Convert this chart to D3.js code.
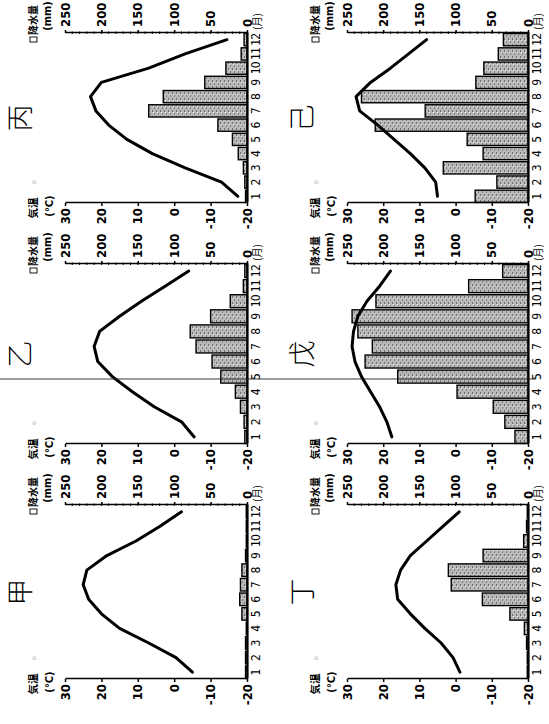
<!DOCTYPE html>
<html>
<head>
<meta charset="utf-8">
<script src="https://cdn.jsdelivr.net/npm/d3@7/dist/d3.min.js"></script>
<style>
  body { margin: 0; background: #fff; }
  svg { display: block; }
  .num { font-family: "DejaVu Sans Condensed", "Liberation Sans Narrow", "DejaVu Sans", sans-serif; font-stretch: condensed; }
  .cjk { font-family: "Noto Sans CJK JP", sans-serif; }
</style>
</head>
<body>
<svg id="chart" width="549" height="724"></svg>
<script>
// month categories
const months = [1, 2, 3, 4, 5, 6, 7, 8, 9, 10, 11, 12];
const panelNames = ["甲", "乙", "丙", "丁", "戊", "己"];

// monthly mean temperature (°C)
const tempKo   = [-5, -0.5, 7, 15, 20, 23.5, 25, 24, 18.5, 10.5, 4, -2];
const tempOtsu = [-5.5, -2, 5.5, 11.5, 17, 21, 22, 20.5, 15, 9, 2.5, -4];
const tempHei  = [-17.5, -13, -3, 6, 13, 18, 21.5, 23, 20, 7, -3, -14.5];
const tempTei  = [-1.2, 0.7, 4, 8.5, 12.5, 16, 16.5, 15.2, 12.5, 8, 3.5, -1];
const tempBo   = [17.6, 19, 21, 23.5, 26, 27.8, 28.6, 28.2, 27, 24.5, 21, 18];
const tempKi   = [5, 5.5, 8.5, 12.5, 17, 21.5, 26.5, 27.5, 23.5, 18, 13, 8];

// monthly precipitation (mm)
const precipKo   = [2, 2, 2, 1, 7, 10, 9, 7, 2, 1, 1, 1];
const precipOtsu = [3, 4, 9, 16, 36, 48, 70, 78, 50, 23, 5, 3];
const precipHei  = [2, 3, 5, 12, 20, 40, 135, 115, 58, 29, 8, 4];
const precipTei  = [1, 1, 2, 5, 25, 63, 106, 110, 62, 6, 2, 1];
const precipBo   = [18, 32, 48, 98, 180, 225, 215, 235, 243, 210, 82, 35];
const precipKi   = [73, 43, 117, 62, 84, 211, 142, 230, 72, 61, 41, 34];

const tempTicks = [30, 20, 10, 0, -10, -20];
const precipTicks = [250, 200, 150, 100, 50, 0];

const temps = [tempKo, tempOtsu, tempHei, tempTei, tempBo, tempKi];
const precips = [precipKo, precipOtsu, precipHei, precipTei, precipBo, precipKi];

// layout (drawn unrotated, 724 x 549, then turned a quarter left like the scan)
const W = 724;
const colSpans = [[45, 219], [280, 460], [521, 691]];
const rowSpans = [[65, 247], [347, 528]];

const svg = d3.select("#chart");
svg.append("rect").attr("width", 549).attr("height", 724).attr("fill", "#fff");

// grey speckled fill for the bars
const defs = svg.append("defs");
const pat = defs.append("pattern").attr("id", "speckle")
    .attr("width", 6).attr("height", 4).attr("patternUnits", "userSpaceOnUse");
pat.append("rect").attr("width", 6).attr("height", 4).attr("fill", "#b9b9b9");
pat.append("rect").attr("x", 0).attr("y", 0).attr("width", 2).attr("height", 1).attr("fill", "#6e6e6e");
pat.append("rect").attr("x", 3).attr("y", 2).attr("width", 2).attr("height", 1).attr("fill", "#848484");
pat.append("rect").attr("x", 5).attr("y", 1).attr("width", 1).attr("height", 1).attr("fill", "#ececec");

const page = svg.append("g").attr("transform", `translate(0,${W}) rotate(-90)`);

panelNames.forEach((name, i) => {
    const [u0, u1] = colSpans[i % 3];
    const [vTop, vBase] = rowSpans[Math.floor(i / 3)];
    const g = page.append("g");

    const x = d3.scaleBand().domain(months).range([u0, u1]).paddingInner(0.14).paddingOuter(0.04);
    const yT = d3.scaleLinear().domain([-20, 30]).range([vBase, vTop]);
    const yP = d3.scaleLinear().domain([0, 250]).range([vBase, vTop]);
    const bw = x.bandwidth();

    // precipitation bars
    g.selectAll(".bar")
        .data(months)
        .enter().append("rect")
        .attr("x", m => x(m))
        .attr("y", m => yP(precips[i][m - 1]))
        .attr("width", bw)
        .attr("height", m => vBase - yP(precips[i][m - 1]))
        .attr("fill", "url(#speckle)")
        .attr("stroke", "#000")
        .attr("stroke-width", 1.4);

    // temperature line
    const line = d3.line()
        .x(m => x(m) + bw / 2)
        .y(m => yT(temps[i][m - 1]));
    g.append("path")
        .datum(months)
        .attr("d", line)
        .attr("fill", "none")
        .attr("stroke", "#000")
        .attr("stroke-width", 3)
        .attr("stroke-linejoin", "round")
        .attr("stroke-linecap", "round");

    // temperature axis
    const axT = g.append("g").attr("transform", `translate(${u0},0)`)
        .call(d3.axisLeft(yT).tickValues(tempTicks).tickSizeInner(3).tickSizeOuter(0).tickPadding(2)
            .tickFormat(d => d));
    // precipitation axis
    const axP = g.append("g").attr("transform", `translate(${u1},0)`)
        .call(d3.axisRight(yP).tickValues(precipTicks).tickSizeInner(3).tickSizeOuter(0).tickPadding(3)
            .tickFormat(d => d));
    [axT, axP].forEach(ax => {
        ax.select(".domain").attr("stroke", "#000").attr("stroke-width", 1.5);
        ax.selectAll(".tick line").attr("stroke", "#000").attr("stroke-width", 1.5);
        ax.selectAll("text").attr("class", "num").attr("font-size", 13).attr("font-weight", "bold")
            .attr("fill", "#000");
    });
    // minor ticks on precipitation axis
    g.append("g").selectAll("line")
        .data(d3.range(10, 250, 10))
        .enter().append("line")
        .attr("x1", u1 - 1).attr("x2", u1 + 1.5)
        .attr("y1", d => yP(d)).attr("y2", d => yP(d))
        .attr("stroke", "#000").attr("stroke-width", 1);

    // month baseline and labels
    const axM = g.append("g").attr("transform", `translate(0,${vBase})`)
        .call(d3.axisBottom(x).tickSize(0).tickPadding(4));
    axM.select(".domain").attr("stroke", "#000").attr("stroke-width", 2.2);
    axM.selectAll("text").attr("class", "num")
        .attr("font-size", 12).attr("fill", "#000")
        .attr("letter-spacing", d => d >= 10 ? -0.8 : 0);
    g.append("text").attr("class", "cjk")
        .attr("x", u1 + 3).attr("y", vBase + 14)
        .attr("font-size", 10)
        .text("(月)");

    // axis titles
    g.append("text").attr("class", "cjk").attr("font-size", 10.5).attr("font-weight", "bold")
        .attr("x", u0 - 5).attr("y", vTop - 28).attr("text-anchor", "middle").text("気温");
    g.append("text").attr("class", "num").attr("font-size", 11).attr("font-weight", "bold")
        .attr("x", u0 - 3).attr("y", vTop - 12).attr("text-anchor", "middle").text("(°C)");
    g.append("text").attr("font-size", 7).attr("fill", "#777")
        .attr("x", u0 + 21).attr("y", vTop - 29).attr("text-anchor", "middle").text("☼");

    g.append("rect").attr("x", u1 - 9).attr("y", vTop - 35).attr("width", 5).attr("height", 7)
        .attr("fill", "none").attr("stroke", "#000").attr("stroke-width", 0.9);
    g.append("text").attr("class", "cjk").attr("font-size", 10).attr("font-weight", "bold")
        .attr("x", u1 + 13).attr("y", vTop - 28).attr("text-anchor", "middle").text("降水量");
    g.append("text").attr("class", "num").attr("font-size", 11).attr("font-weight", "bold")
        .attr("x", u1 + 17).attr("y", vTop - 14).attr("text-anchor", "middle").text("(mm)");

    // panel name
    g.append("text").attr("class", "cjk")
        .attr("x", (u0 + u1) / 2).attr("y", vTop - 35)
        .attr("text-anchor", "middle").attr("font-size", 27).attr("font-weight", 300)
        .text(name);
});

// fold line across the page, on top of everything
page.append("line")
    .attr("x1", 345).attr("x2", 345).attr("y1", 0).attr("y2", 536)
    .attr("stroke", "#222").attr("stroke-width", 0.9);
</script>
</body>
</html>
